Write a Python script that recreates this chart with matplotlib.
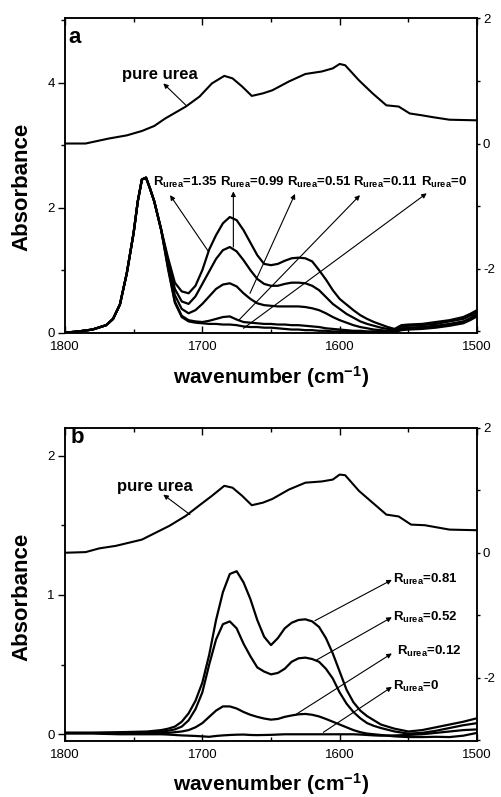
import numpy as np
import matplotlib
matplotlib.use("Agg")
import matplotlib.pyplot as plt
from matplotlib.ticker import MultipleLocator

plt.rcParams["font.family"] = "Liberation Sans"
plt.rcParams["mathtext.fontset"] = "custom"
plt.rcParams["mathtext.rm"] = "Liberation Sans:bold"
plt.rcParams["mathtext.bf"] = "Liberation Sans:bold"
plt.rcParams["mathtext.default"] = "rm"
plt.rcParams["axes.unicode_minus"] = False

# ---- panel a: urea/ester spectra (left axis) ----
wn_a = [1800, 1790, 1780, 1770, 1765, 1760, 1755, 1750, 1747, 1744, 1741, 1738, 1735, 1730,
        1725, 1720, 1715, 1710, 1705, 1700, 1695, 1690, 1685, 1680, 1675, 1670, 1665, 1660,
        1655, 1650, 1645, 1640, 1635, 1630, 1625, 1620, 1615, 1610, 1605, 1600, 1595, 1590,
        1585, 1580, 1575, 1570, 1565, 1560, 1555, 1550, 1540, 1530, 1520, 1510, 1505, 1500]
rise_a = [0.0, 0.02, 0.05, 0.12, 0.22, 0.45, 0.95, 1.6, 2.1, 2.45, 2.48, 2.3, 2.1, 1.65]
a_135 = rise_a + [1.2, 0.8, 0.66, 0.63, 0.75, 1.0, 1.33, 1.56, 1.75, 1.85, 1.8, 1.64, 1.44, 1.24,
                  1.1, 1.08, 1.1, 1.15, 1.19, 1.2, 1.19, 1.14, 1.0, 0.85, 0.68, 0.54, 0.45, 0.36,
                  0.28, 0.22, 0.17, 0.13, 0.09, 0.06, 0.12, 0.13, 0.14, 0.17, 0.2, 0.25, 0.3, 0.36]
a_099 = rise_a + [1.15, 0.7, 0.5, 0.46, 0.58, 0.78, 0.98, 1.18, 1.32, 1.37, 1.3, 1.16, 1.0, 0.86,
                  0.78, 0.75, 0.75, 0.78, 0.8, 0.8, 0.79, 0.75, 0.68, 0.57, 0.46, 0.38, 0.3, 0.24,
                  0.18, 0.14, 0.11, 0.08, 0.06, 0.05, 0.1, 0.11, 0.12, 0.14, 0.18, 0.22, 0.27, 0.33]
a_051 = rise_a + [1.1, 0.6, 0.38, 0.31, 0.36, 0.46, 0.58, 0.7, 0.77, 0.79, 0.74, 0.63, 0.54, 0.47,
                  0.44, 0.43, 0.42, 0.42, 0.42, 0.42, 0.41, 0.39, 0.36, 0.31, 0.25, 0.2, 0.16, 0.12,
                  0.09, 0.07, 0.05, 0.04, 0.03, 0.03, 0.07, 0.08, 0.09, 0.11, 0.14, 0.18, 0.23, 0.3]
a_011 = rise_a + [1.05, 0.5, 0.27, 0.2, 0.18, 0.17, 0.19, 0.22, 0.25, 0.26, 0.21, 0.17, 0.16, 0.15,
                  0.14, 0.14, 0.13, 0.13, 0.12, 0.12, 0.11, 0.1, 0.09, 0.07, 0.06, 0.05, 0.04, 0.03,
                  0.03, 0.02, 0.02, 0.02, 0.02, 0.02, 0.06, 0.07, 0.08, 0.1, 0.13, 0.17, 0.22, 0.28]
a_000 = rise_a + [1.02, 0.48, 0.25, 0.18, 0.16, 0.15, 0.14, 0.14, 0.13, 0.13, 0.12, 0.1, 0.09, 0.09,
                  0.08, 0.08, 0.07, 0.06, 0.05, 0.05, 0.04, 0.04, 0.03, 0.03, 0.02, 0.02, 0.02, 0.01,
                  0.01, 0.01, 0.01, 0.01, 0.01, 0.01, 0.04, 0.05, 0.06, 0.08, 0.11, 0.15, 0.2, 0.26]

# pure urea (right axis)
pure_wn_a = [1800, 1785, 1768, 1755, 1744, 1735, 1727, 1712, 1702, 1693, 1684, 1678, 1671, 1664,
             1656, 1649, 1637, 1625, 1613, 1605, 1600, 1596, 1586, 1576, 1566, 1557, 1549, 1540,
             1532, 1520, 1500]
pure_a = [0.0, 0.0, 0.08, 0.13, 0.2, 0.28, 0.4, 0.59, 0.75, 0.96, 1.08, 1.04, 0.91, 0.76,
          0.8, 0.85, 0.99, 1.11, 1.15, 1.2, 1.27, 1.25, 1.01, 0.8, 0.61, 0.59, 0.48, 0.45,
          0.42, 0.38, 0.37]

labels_a = ["1.35", "0.99", "0.51", "0.11", "0"]
label_x_a = [1735.7, 1687.1, 1638.1, 1590.1, 1541.0]
head_a = [(1723.5, 2.2), (1677.4, 2.26), (1632.5, 2.22), (1585.2, 2.2), (1536.6, 2.23)]
tail_a = [(1695.6, 1.3), (1677.4, 1.37), (1665.3, 0.63), (1673.0, 0.21), (1670.0, 0.07)]

# ---- panel b ----
wn_b = [1800, 1780, 1760, 1740, 1730, 1725, 1720, 1715, 1710, 1705, 1700, 1695, 1690, 1685,
        1680, 1675, 1670, 1665, 1660, 1655, 1650, 1645, 1640, 1635, 1630, 1625, 1620, 1615,
        1610, 1605, 1600, 1595, 1590, 1585, 1580, 1575, 1570, 1560, 1550, 1540, 1530, 1520,
        1510, 1500]
b_081 = [0.01, 0.01, 0.015, 0.02, 0.03, 0.04, 0.055, 0.09, 0.15, 0.24, 0.37, 0.57, 0.82, 1.02,
         1.15, 1.17, 1.09, 0.97, 0.82, 0.7, 0.64, 0.69, 0.76, 0.8, 0.82, 0.825, 0.81, 0.77,
         0.69, 0.58, 0.45, 0.32, 0.23, 0.17, 0.13, 0.1, 0.07, 0.04, 0.02, 0.03, 0.05, 0.07,
         0.09, 0.115]
b_052 = [0.01, 0.01, 0.01, 0.015, 0.02, 0.025, 0.035, 0.055, 0.1, 0.18, 0.3, 0.5, 0.68, 0.79,
         0.81, 0.76, 0.65, 0.56, 0.48, 0.45, 0.43, 0.44, 0.47, 0.52, 0.545, 0.55, 0.54, 0.52,
         0.47, 0.4, 0.3, 0.22, 0.16, 0.115, 0.08, 0.06, 0.045, 0.02, 0.005, 0.01, 0.025, 0.045,
         0.065, 0.08]
b_012 = [0.01, 0.01, 0.01, 0.01, 0.01, 0.01, 0.015, 0.02, 0.03, 0.05, 0.08, 0.125, 0.17, 0.2,
         0.2, 0.185, 0.16, 0.14, 0.125, 0.113, 0.105, 0.11, 0.125, 0.135, 0.143, 0.146, 0.14, 0.128,
         0.11, 0.09, 0.07, 0.05, 0.03, 0.015, 0.005, 0.0, -0.005, -0.015, -0.02, -0.02, -0.018, -0.02,
         -0.01, 0.01]
b_000 = [0.005, 0.005, 0.0, 0.0, 0.0, -0.002, -0.005, -0.008, -0.01, -0.012, -0.015, -0.018, -0.012, -0.008,
         -0.005, -0.003, -0.002, -0.005, -0.006, -0.005, -0.004, -0.002, 0.0, 0.0, 0.0, 0.0, 0.0, 0.0,
         0.0, 0.0, 0.0, 0.0, 0.0, -0.002, -0.005, -0.008, -0.01, -0.008, -0.005, 0.0, 0.01, 0.02,
         0.03, 0.035]

pure_wn_b = [1800, 1785, 1775, 1763, 1744, 1734, 1724, 1712, 1702, 1693, 1684, 1678, 1671, 1664,
             1656, 1649, 1637, 1625, 1613, 1605, 1600, 1596, 1586, 1576, 1566, 1557, 1548, 1538,
             1520, 1500]
pure_b = [0.0, 0.01, 0.07, 0.11, 0.21, 0.32, 0.43, 0.59, 0.76, 0.91, 1.07, 1.04, 0.91, 0.76,
          0.8, 0.86, 1.01, 1.12, 1.14, 1.17, 1.25, 1.24, 0.99, 0.8, 0.61, 0.58, 0.45, 0.44,
          0.37, 0.36]

labels_b = ["0.81", "0.52", "0.12", "0"]
label_x_b = [1561.0, 1561.0, 1558.5, 1561.0]
label_y_b = [1.084, 0.81, 0.57, 0.32]
head_b = [(1562, 1.108), (1562, 0.84), (1562, 0.58), (1562, 0.34)]
tail_b = [(1618, 0.815), (1616.8, 0.533), (1631.3, 0.146), (1611.9, 0.014)]

fig = plt.figure(figsize=(5.01, 7.97), dpi=100)
arrow = dict(arrowstyle="-|>", lw=0.8, color="k", mutation_scale=7, shrinkA=0, shrinkB=0)


def style(ax, ax2, ymaj, ymin):
    ax.set_xlim(1800, 1500)
    ax.xaxis.set_major_locator(MultipleLocator(100))
    ax.xaxis.set_minor_locator(MultipleLocator(50))
    ax.yaxis.set_major_locator(MultipleLocator(ymaj))
    ax.yaxis.set_minor_locator(MultipleLocator(ymin))
    ax.tick_params(axis="x", which="both", direction="in", top=True, labelsize=9.5, pad=6)
    ax.tick_params(axis="x", which="major", length=5, width=1)
    ax.tick_params(axis="x", which="minor", length=3, width=1)
    ax.tick_params(axis="y", which="major", direction="out", length=5, width=1, labelsize=9.5, pad=2.5)
    ax.tick_params(axis="y", which="minor", direction="out", length=3, width=1)
    ax2.yaxis.set_major_locator(MultipleLocator(2))
    ax2.yaxis.set_minor_locator(MultipleLocator(1))
    ax2.tick_params(axis="y", which="major", direction="out", length=2.5, width=1, labelsize=9.5, pad=1.8)
    ax2.tick_params(axis="y", which="minor", direction="out", length=2.5, width=1)
    for s in list(ax.spines.values()) + list(ax2.spines.values()):
        s.set_linewidth(1.1)
    ax.set_xlabel("wavenumber (cm$^{-1}$)", fontsize=15, fontweight="bold", va="center")
    ax.set_ylabel("Absorbance", fontsize=16, fontweight="bold")


def rlabel(v):
    return "R$_{\\rm urea}$=" + v


# panel a
ax = fig.add_axes([0.1297, 0.5826, 0.8224, 0.3945])
ax2 = ax.twinx()
for ys in (a_135, a_099, a_051, a_011, a_000):
    ax.plot(wn_a, ys, color="k", lw=1.6)
ax2.plot(pure_wn_a, pure_a, color="k", lw=1.5)
ax.set_ylim(0, 5.03)
ax2.set_ylim(-3.02, 2)
style(ax, ax2, 2, 1)
ax.xaxis.set_label_coords(0.5, -0.142)
ax.yaxis.set_label_coords(-0.078, 0.464)
for lab, lx, h, t in zip(labels_a, label_x_a, head_a, tail_a):
    ax.text(lx, 2.35, rlabel(lab), fontsize=9.5, fontweight="bold", va="baseline")
    ax.annotate("", xy=h, xytext=t, arrowprops=arrow)
ax2.text(1758.7, 1.03, "pure urea", fontsize=12, fontweight="bold", va="baseline")
ax2.annotate("", xy=(1728.4, 0.96), xytext=(1711.4, 0.6), arrowprops=arrow)
ax.text(0.008, 0.921, "a", transform=ax.transAxes, fontsize=16, fontweight="bold", va="baseline")

# panel b
bx = fig.add_axes([0.1297, 0.0703, 0.8224, 0.3931])
bx2 = bx.twinx()
for ys in (b_081, b_052, b_012, b_000):
    bx.plot(wn_b, ys, color="k", lw=1.6)
bx2.plot(pure_wn_b, pure_b, color="k", lw=1.5)
bx.set_ylim(-0.048, 2.2)
bx2.set_ylim(-3.01, 2)
style(bx, bx2, 1, 0.5)
bx.xaxis.set_label_coords(0.5, -0.138)
bx.yaxis.set_label_coords(-0.078, 0.46)
for lab, lx, ly, h, t in zip(labels_b, label_x_b, label_y_b, head_b, tail_b):
    bx.text(lx, ly, rlabel(lab), fontsize=9.5, fontweight="bold", va="baseline")
    bx.annotate("", xy=h, xytext=t, arrowprops=arrow)
bx2.text(1762.4, 0.99, "pure urea", fontsize=12, fontweight="bold", va="baseline")
bx2.annotate("", xy=(1728.4, 0.93), xytext=(1709.0, 0.61), arrowprops=arrow)
bx.text(0.014, 0.951, "b", transform=bx.transAxes, fontsize=16, fontweight="bold", va="baseline")

fig.savefig("out.png", dpi=100)
